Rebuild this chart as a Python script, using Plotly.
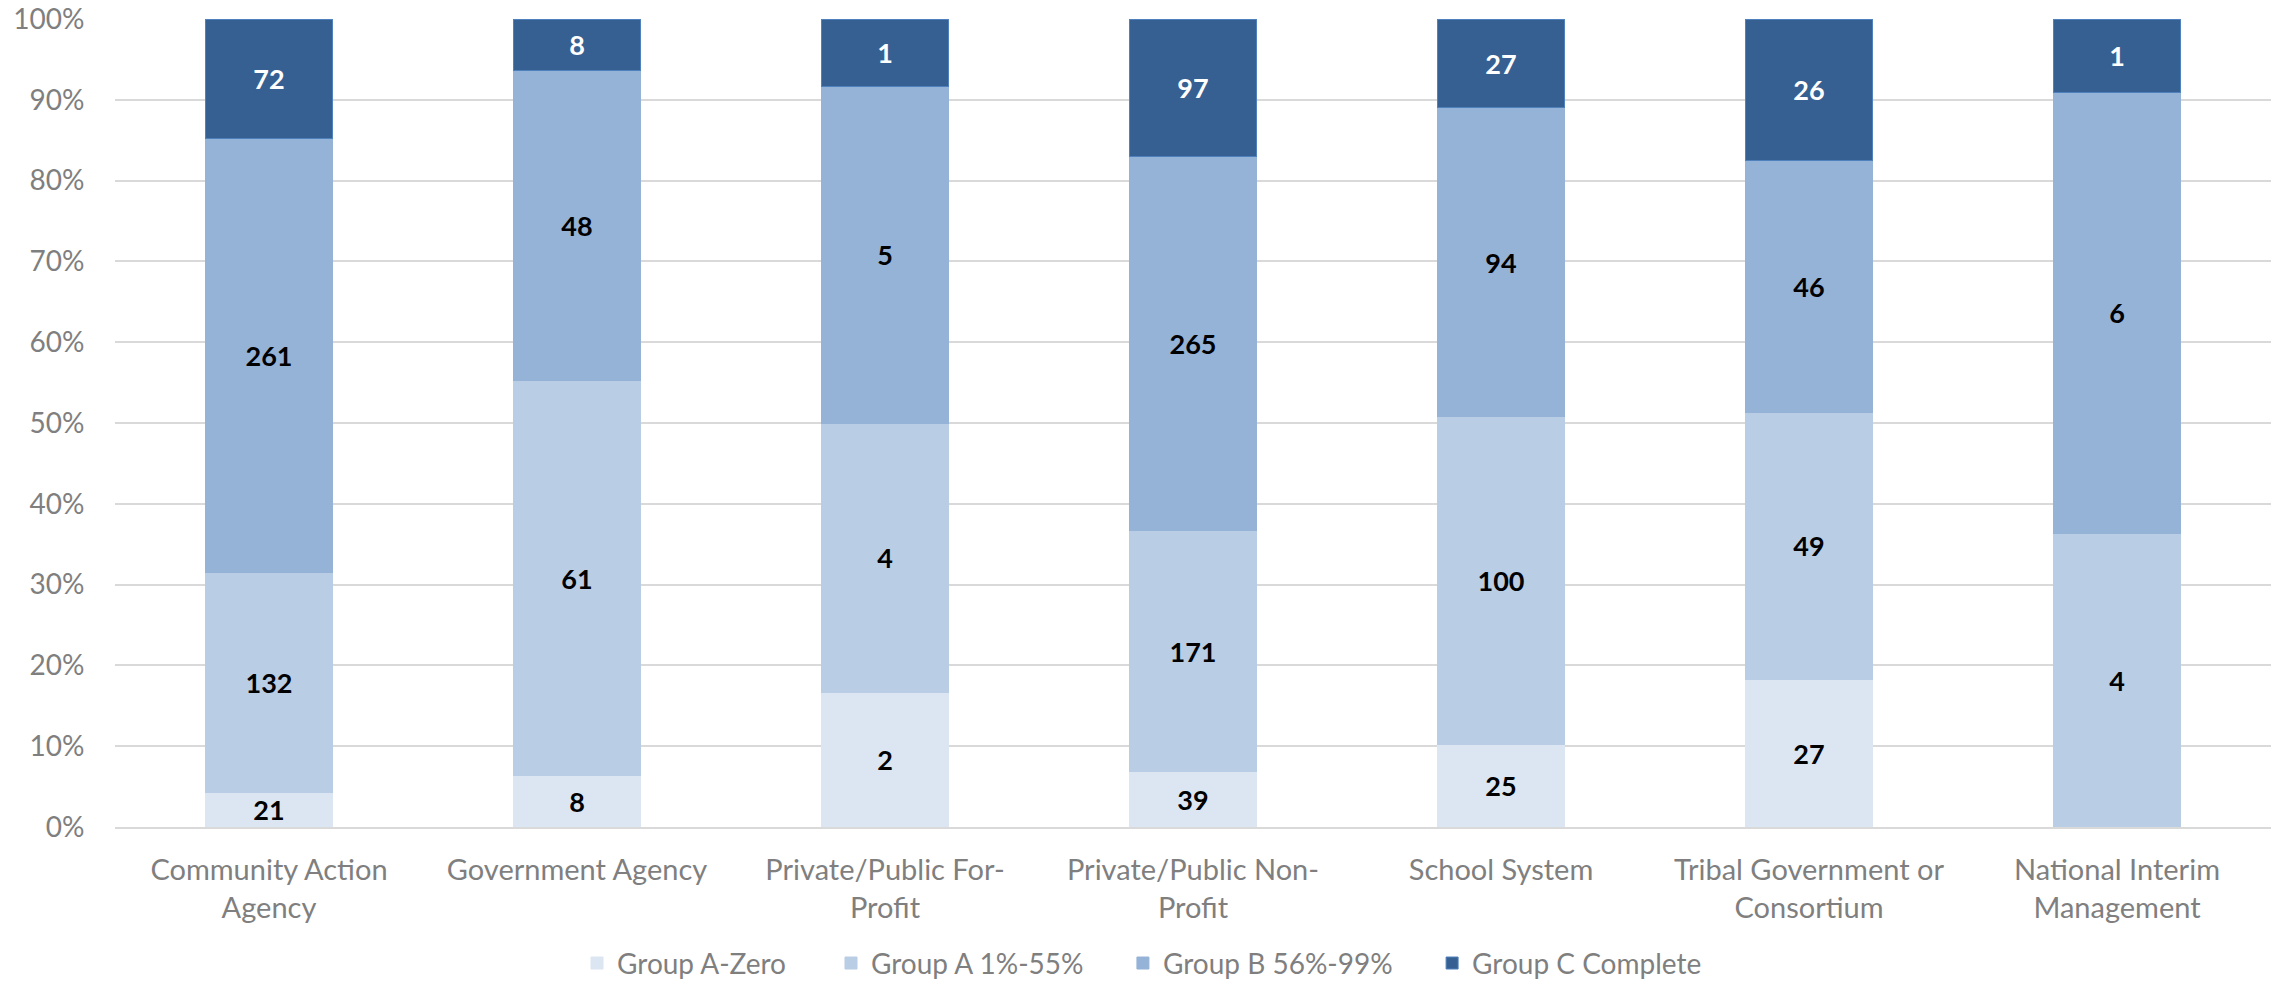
import plotly.graph_objects as go

# Program counts by organisation type and completion group
categories = [
    "Community Action<br>Agency",
    "Government Agency",
    "Private/Public For-<br>Profit",
    "Private/Public Non-<br>Profit",
    "School System",
    "Tribal Government or<br>Consortium",
    "National Interim<br>Management",
]
group_a_zero = [21, 8, 2, 39, 25, 27, 0]
group_a_1_55 = [132, 61, 4, 171, 100, 49, 4]
group_b_56_99 = [261, 48, 5, 265, 94, 46, 6]
group_c_complete = [72, 8, 1, 97, 27, 26, 1]

# name, values, fill, outline, label colour, legend id, legend left edge (paper x)
series = [
    ("Group A-Zero", group_a_zero, "#DCE6F2", "#DCE6F2", "black", "legend", 0.2143),
    ("Group A 1%-55%", group_a_1_55, "#B9CDE5", "#B9CDE5", "black", "legend2", 0.3321),
    ("Group B 56%-99%", group_b_56_99, "#95B3D7", "#95B3D7", "black", "legend3", 0.4675),
    ("Group C Complete", group_c_complete, "#366092", "#4F81BD", "white", "legend4", 0.6109),
]

FONT = "Lato, Calibri, Carlito, sans-serif"
GREY = "#7F7F7F"

fig = go.Figure()
legend_layouts = {}
for name, vals, color, edge, tcolor, leg, lx in series:
    fig.add_trace(go.Bar(
        name=name,
        x=categories,
        y=vals,
        text=[str(v) if v else "" for v in vals],
        textposition="inside",
        insidetextanchor="middle",
        textangle=0,
        textfont=dict(family=FONT, size=27, color=tcolor, weight="bold"),
        marker=dict(color=color, line=dict(color=edge, width=1)),
        legend=leg,
        hoverinfo="skip",
    ))
    legend_layouts[leg] = dict(
        orientation="h",
        x=lx, xanchor="left",
        yref="container",
        y=0.023, yanchor="middle",
        font=dict(family=FONT, size=28, color=GREY),
        itemwidth=30,
        bgcolor="rgba(0,0,0,0)",
    )

fig.update_layout(
    barmode="stack",
    barnorm="percent",
    bargap=0.59,
    width=2275,
    height=986,
    margin=dict(l=115, r=4, t=19, b=159, autoexpand=False),
    paper_bgcolor="white",
    plot_bgcolor="white",
    font=dict(family=FONT, size=28, color=GREY),
    uniformtext=dict(minsize=27, mode="show"),
    showlegend=True,
    yaxis=dict(
        range=[0, 100],
        dtick=10,
        ticksuffix="%",
        showgrid=True,
        gridcolor="#D9D9D9",
        gridwidth=2,
        zeroline=False,
        showline=False,
        ticks="outside",
        ticklen=24,
        tickcolor="rgba(0,0,0,0)",
        automargin=False,
        tickfont=dict(family=FONT, size=28, color=GREY),
    ),
    xaxis=dict(
        showline=True,
        linecolor="#D9D9D9",
        linewidth=2,
        ticks="",
        tickangle=0,
        automargin=False,
        ticklabelstandoff=16,
        tickfont=dict(family=FONT, size=29, color=GREY),
    ),
    **legend_layouts,
)

fig.write_html("out.html")
